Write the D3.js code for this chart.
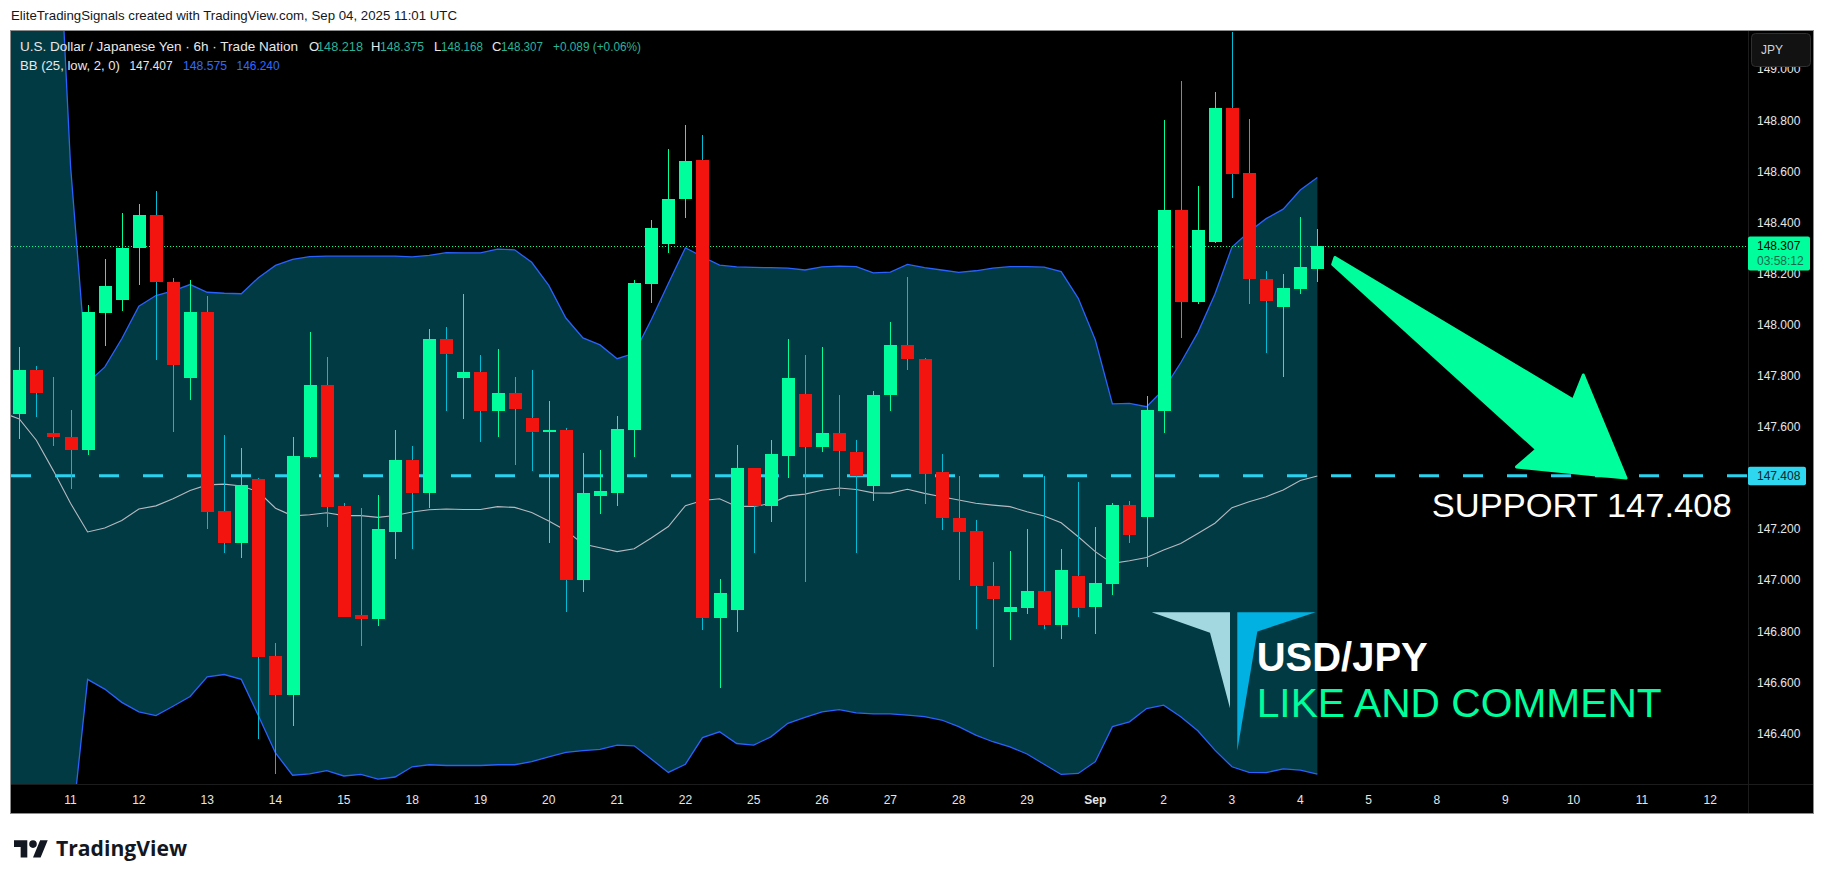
<!DOCTYPE html>
<html><head><meta charset="utf-8">
<script src="https://cdn.jsdelivr.net/npm/d3@7"></script>
<style>html,body{margin:0;padding:0;background:#fff;} svg{display:block;}</style>
</head><body>
<svg id="c" width="1826" height="881"></svg>
<script>
// ---------------- DATA ----------------
const openP = [147.648,147.822,147.576,147.559,147.507,148.046,148.097,148.298,148.430,148.166,
147.792,148.049,147.270,147.143,147.396,146.702,146.551,147.483,147.763,147.290,
146.861,146.849,147.189,147.469,147.342,147.943,147.789,147.814,147.663,147.732,
147.634,147.580,147.588,146.998,147.327,147.342,147.585,148.160,148.313,148.490,
148.644,146.852,146.884,147.438,147.288,147.487,147.729,147.522,147.576,147.501,
147.366,147.724,147.920,147.865,147.422,147.244,147.192,146.976,146.876,146.892,
146.957,146.825,147.015,146.895,146.985,147.293,147.248,147.661,148.447,148.088,
148.323,148.846,148.591,148.177,148.068,148.139,148.218];
const highP = [147.910,147.837,147.795,147.666,148.076,148.258,148.437,148.472,148.523,148.183,
148.175,148.112,147.568,147.517,147.401,146.753,147.559,147.971,147.872,147.303,
147.282,147.333,147.588,147.525,147.983,147.991,148.120,147.881,147.904,147.795,
147.822,147.700,147.595,147.496,147.508,147.642,148.175,148.409,148.688,148.782,
148.743,147.003,147.528,147.438,147.547,147.943,147.881,147.913,147.724,147.547,
147.741,148.010,148.186,147.869,147.493,147.407,147.235,147.070,147.113,147.199,
147.407,147.121,147.382,147.207,147.300,147.309,147.721,148.799,148.951,148.541,
148.908,149.143,148.803,148.208,148.196,148.419,148.375];
const lowP = [147.550,147.636,147.526,147.356,147.490,147.917,148.051,148.153,147.859,147.580,
147.706,147.201,147.104,147.087,146.377,146.240,146.430,147.478,147.206,146.854,
146.740,146.818,147.084,147.123,147.282,147.663,147.628,147.538,147.558,147.448,
147.428,147.146,146.876,146.954,147.260,147.291,147.483,148.082,148.279,148.415,
146.806,146.576,146.798,147.104,147.225,147.401,146.992,147.499,147.330,147.104,
147.311,147.660,147.823,147.299,147.197,147.001,146.809,146.660,146.766,146.868,
146.809,146.770,146.856,146.790,146.942,147.146,147.052,147.576,147.947,148.079,
148.320,148.495,148.079,147.888,147.794,148.119,148.168];
const closeP = [147.822,147.733,147.558,147.507,148.049,148.151,148.300,148.430,148.165,147.840,
148.049,147.267,147.146,147.372,146.699,146.551,147.486,147.763,147.285,146.857,
146.849,147.200,147.469,147.342,147.943,147.883,147.814,147.663,147.732,147.670,
147.580,147.588,146.998,147.341,147.348,147.591,148.163,148.377,148.490,148.641,
146.852,146.950,147.438,147.288,147.493,147.790,147.522,147.576,147.504,147.408,
147.723,147.920,147.866,147.416,147.244,147.189,146.978,146.927,146.894,146.957,
146.825,147.039,146.892,146.988,147.293,147.177,147.665,148.447,148.088,148.368,
148.846,148.589,148.177,148.092,148.141,148.224,148.307];

// Bollinger bands (25, low, 2); first value belongs to the bar before the first visible one
const bbStart = -1;
const bbUpper = [150.35,150.30,150.20,150.00,148.62,147.772,147.833,147.944,148.071,148.113,148.131,
148.156,148.126,148.122,148.120,148.183,148.231,148.255,148.265,148.267,148.267,
148.267,148.267,148.267,148.264,148.270,148.281,148.280,148.280,148.295,148.292,
148.243,148.153,148.025,147.947,147.920,147.866,147.887,148.018,148.160,148.300,
148.265,148.232,148.225,148.223,148.222,148.220,148.213,148.225,148.228,148.226,
148.202,148.205,148.235,148.222,148.213,148.204,148.210,148.220,148.226,148.226,
148.224,148.207,148.102,147.939,147.689,147.691,147.678,147.746,147.850,147.968,
148.118,148.303,148.363,148.414,148.451,148.526,148.575];
const bbBasis = [147.655,147.630,147.547,147.427,147.300,147.188,147.203,147.233,147.278,147.290,147.318,
147.350,147.372,147.375,147.368,147.345,147.281,147.251,147.255,147.263,147.252,
147.252,147.245,147.252,147.266,147.275,147.278,147.276,147.276,147.287,147.284,
147.264,147.231,147.194,147.141,147.126,147.111,147.122,147.164,147.209,147.291,
147.311,147.318,147.288,147.288,147.299,147.329,147.336,147.351,147.360,147.354,
147.341,147.340,147.355,147.339,147.326,147.313,147.300,147.293,147.287,147.267,
147.250,147.224,147.169,147.111,147.065,147.075,147.088,147.117,147.143,147.182,
147.222,147.283,147.306,147.326,147.352,147.389,147.407];
const bbLower = [144.96,144.96,144.90,144.85,145.98,146.611,146.573,146.521,146.484,146.469,146.506,
146.544,146.621,146.630,146.611,146.469,146.323,146.236,146.241,146.254,146.233,
146.239,146.221,146.229,146.269,146.277,146.274,146.274,146.274,146.277,146.277,
146.289,146.308,146.325,146.332,146.337,146.354,146.351,146.299,146.247,146.279,
146.383,146.406,146.360,146.354,146.386,146.439,146.462,146.484,146.493,146.480,
146.476,146.476,146.471,146.465,146.452,146.426,146.393,146.367,146.347,146.319,
146.279,146.239,146.243,146.289,146.426,146.445,146.497,146.510,146.465,146.410,
146.334,146.269,146.247,146.246,146.261,146.256,146.240];

const dayLabels = ["11","12","13","14","15","18","19","20","21","22","25","26","27","28","29","Sep","2","3","4","5","8","9","10","11","12"];
const firstDayBar = 3, barsPerDay = 4;
const priceTicks = [146.4,146.6,146.8,147.0,147.2,147.4,147.6,147.8,148.0,148.2,148.4,148.6,148.8,149.0];
const supportLevel = 147.408;
const lastPrice = 148.307;
const countdown = "03:58:12";

// ---------------- LAYOUT ----------------
const svg = d3.select("#c");
const plot = {x0: 11, x1: 1748, y0: 31, y1: 784};
const x = d3.scaleLinear().domain([0, 99]).range([19.3, 1710.2]);
const y = d3.scaleLinear().domain([146.4, 148.8]).range([733.3, 120]);
const GREEN = "#00ff9c", RED = "#f3130f", RED_WICK = "#00bcd4";
const AX = "Liberation Sans, Arial, sans-serif";
const ANN = "Liberation Sans, Arial, sans-serif";

// header
svg.append("text").attr("x", 11).attr("y", 20).attr("font-family", AX).attr("font-size", 13)
  .attr("fill", "#131722").attr("textLength", 446).attr("lengthAdjust", "spacingAndGlyphs")
  .text("EliteTradingSignals created with TradingView.com, Sep 04, 2025 11:01 UTC");

// panel
svg.append("rect").attr("x", 10.5).attr("y", 30.5).attr("width", 1803).attr("height", 783)
  .attr("fill", "#000").attr("stroke", "#8c8c8c").attr("stroke-width", 1);

svg.append("defs").append("clipPath").attr("id", "clip")
  .append("rect").attr("x", plot.x0).attr("y", plot.y0).attr("width", plot.x1 - plot.x0).attr("height", plot.y1 - plot.y0);
const g = svg.append("g").attr("clip-path", "url(#clip)");

const bbIdx = d3.range(bbUpper.length).map(k => k + bbStart);
// band fill
g.append("path").datum(bbIdx)
  .attr("d", d3.area().x(i => x(i)).y0(i => y(bbLower[i - bbStart])).y1(i => y(bbUpper[i - bbStart])))
  .attr("fill", "#013a42");
const line = arr => d3.line().x(i => x(i)).y(i => y(arr[i - bbStart]));
g.append("path").datum(bbIdx).attr("d", line(bbUpper)).attr("fill", "none").attr("stroke", "#2962ff").attr("stroke-width", 1.3);
g.append("path").datum(bbIdx).attr("d", line(bbLower)).attr("fill", "none").attr("stroke", "#2962ff").attr("stroke-width", 1.3);
g.append("path").datum(bbIdx).attr("d", line(bbBasis)).attr("fill", "none").attr("stroke", "#b7bac2").attr("stroke-width", 1.1);

// last price dotted line
g.append("line").attr("x1", plot.x0).attr("x2", plot.x1).attr("y1", Math.round(y(lastPrice)) + 0.5).attr("y2", Math.round(y(lastPrice)) + 0.5)
  .attr("stroke", GREEN).attr("stroke-width", 1).attr("stroke-dasharray", "1,2");
// support dashed line
g.append("line").attr("x1", plot.x0).attr("x2", plot.x1).attr("y1", y(supportLevel)).attr("y2", y(supportLevel))
  .attr("stroke", "#29d3ef").attr("stroke-width", 3).attr("stroke-dasharray", "20,24");

// candles
const idx = d3.range(openP.length);
const cg = g.append("g").attr("shape-rendering", "crispEdges");
cg.selectAll("line.w").data(idx).join("line")
  .attr("x1", i => Math.round(x(i)) + 0.5).attr("x2", i => Math.round(x(i)) + 0.5)
  .attr("y1", i => y(highP[i])).attr("y2", i => y(lowP[i]))
  .attr("stroke", i => closeP[i] >= openP[i] ? GREEN : RED_WICK).attr("stroke-width", 1);
cg.selectAll("rect.b").data(idx).join("rect")
  .attr("x", i => Math.round(x(i)) - 6).attr("width", 13)
  .attr("y", i => y(Math.max(openP[i], closeP[i])))
  .attr("height", i => Math.max(2, Math.abs(y(openP[i]) - y(closeP[i]))))
  .attr("fill", i => closeP[i] >= openP[i] ? GREEN : RED);

// separators
svg.append("line").attr("x1", 1748.5).attr("x2", 1748.5).attr("y1", 31).attr("y2", 813).attr("stroke", "#1c1c1c");
svg.append("line").attr("x1", 11).attr("x2", 1813).attr("y1", 784.5).attr("y2", 784.5).attr("stroke", "#1c1c1c");

// price axis
svg.append("g").selectAll("text").data(priceTicks).join("text")
  .attr("x", 1757).attr("y", v => y(v) + 4.5).attr("font-family", AX).attr("font-size", 12)
  .attr("fill", "#e6e6e6").text(v => d3.format(".3f")(v));

// time axis
svg.append("g").selectAll("text").data(dayLabels).join("text")
  .attr("x", (d, k) => x(firstDayBar + barsPerDay * k)).attr("y", 804).attr("text-anchor", "middle")
  .attr("font-family", AX).attr("font-size", 12).attr("font-weight", d => d === "Sep" ? "bold" : "normal")
  .attr("fill", "#e6e6e6").text(d => d);

// last price label
const lp = svg.append("g");
lp.append("rect").attr("x", 1748).attr("y", y(lastPrice) - 9.5).attr("width", 62).attr("height", 34).attr("rx", 2).attr("fill", GREEN);
lp.append("text").attr("x", 1757).attr("y", y(lastPrice) + 4.5).attr("font-family", AX).attr("font-size", 12).attr("fill", "#000").text(d3.format(".3f")(lastPrice));
lp.append("text").attr("x", 1757).attr("y", y(lastPrice) + 19.5).attr("font-family", AX).attr("font-size", 12).attr("fill", "#146a4e").text(countdown);
// support label
const sp = svg.append("g");
sp.append("rect").attr("x", 1748).attr("y", y(supportLevel) - 9).attr("width", 58).attr("height", 18.5).attr("rx", 2).attr("fill", "#2ed6f0");
sp.append("text").attr("x", 1757).attr("y", y(supportLevel) + 4.5).attr("font-family", AX).attr("font-size", 12).attr("fill", "#0b2229").text(d3.format(".3f")(supportLevel));

// JPY button (covers the top of the 149.000 label, as in the original)
svg.append("rect").attr("x", 1751.5).attr("y", 33.5).attr("width", 59).attr("height", 33).attr("rx", 4)
  .attr("fill", "#121212").attr("stroke", "#2f2f2f");
svg.append("text").attr("x", 1761).attr("y", 54).attr("font-family", AX).attr("font-size", 12).attr("fill", "#d1d4dc").text("JPY");

// legend
const LG = (t, x0, yb, col, len) => {
  const s = svg.append("text").attr("x", x0).attr("y", yb).attr("font-family", AX).attr("font-size", 13).attr("fill", col).text(t);
  if (len) s.attr("textLength", len).attr("lengthAdjust", "spacingAndGlyphs");
};
const TEAL = "#2bb39a", WHITE = "#e8e8e8", BLUE = "#2f6bff";
LG("U.S. Dollar / Japanese Yen · 6h · Trade Nation", 20, 51, WHITE, 278);
LG("O", 309, 51, WHITE); LG("148.218", 317, 51, TEAL, 46);
LG("H", 371, 51, WHITE); LG("148.375", 380, 51, TEAL, 44);
LG("L", 434, 51, WHITE); LG("148.168", 441, 51, TEAL, 42);
LG("C", 492, 51, WHITE); LG("148.307", 501, 51, TEAL, 42);
LG("+0.089 (+0.06%)", 553, 51, TEAL, 88);
LG("BB (25, low, 2, 0)", 20, 70, WHITE, 100);
LG("147.407", 129.5, 70, WHITE, 43);
LG("148.575", 183, 70, BLUE, 44);
LG("146.240", 236.6, 70, BLUE, 43);

// ---------------- ANNOTATIONS ----------------
// arrow
svg.append("path")
  .attr("d", "M1335,257.5 L1573.3,400 L1583.3,375 L1626,478 L1516.5,467 L1536.7,449.3 L1332.7,264.5 Z")
  .attr("fill", GREEN).attr("stroke", GREEN).attr("stroke-width", 3).attr("stroke-linejoin", "round");
svg.append("text").attr("x", 1431.7).attr("y", 516.7).attr("font-family", ANN)
  .attr("font-size", 34).attr("fill", "#fff").attr("textLength", 300).attr("lengthAdjust", "spacingAndGlyphs")
  .text("SUPPORT 147.408");
// logo
svg.append("path").attr("d", "M1151.7,612.3 L1230,612.3 L1230,708.3 L1210,632.7 Z").attr("fill", "#a3d8e1");
svg.append("path").attr("d", "M1237.3,612.3 L1315.7,612.3 L1257.3,631.5 L1237.3,750.7 Z").attr("fill", "#00b1e2");
svg.append("text").attr("x", 1256.7).attr("y", 671.2).attr("font-family", ANN)
  .attr("font-size", 41).attr("font-weight", 700).attr("fill", "#fff").attr("textLength", 171).attr("lengthAdjust", "spacingAndGlyphs")
  .text("USD/JPY");
svg.append("text").attr("x", 1256.7).attr("y", 717.3).attr("font-family", ANN)
  .attr("font-size", 40).attr("fill", GREEN).attr("textLength", 405).attr("lengthAdjust", "spacingAndGlyphs")
  .text("LIKE AND COMMENT");

// TradingView footer logo
const tv = svg.append("g").attr("transform", "translate(14,836.5) scale(0.95)").attr("fill", "#131722");
tv.append("path").attr("d", "M14 22H7V11H0V4h14v18zM28 22h-8l7.5-18h8L28 22z");
tv.append("circle").attr("cx", 20).attr("cy", 8).attr("r", 4);
svg.append("text").attr("x", 56).attr("y", 856).attr("font-family", "Open Sans, DejaVu Sans, sans-serif")
  .attr("font-size", 22).attr("font-weight", 700).attr("fill", "#131722").attr("textLength", 131).attr("lengthAdjust", "spacingAndGlyphs")
  .text("TradingView");
</script>
</body></html>
